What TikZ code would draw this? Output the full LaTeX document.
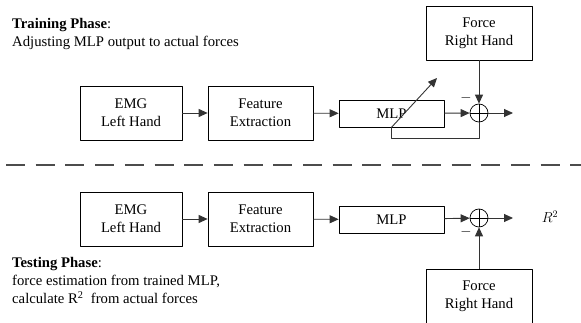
\documentclass[tikz,border=0pt]{standalone}
\usepackage{fontspec}
\setmainfont{Liberation Serif}
\usetikzlibrary{arrows.meta}
\tikzset{
  blok/.style={draw,line width=0.7pt,align=center,inner sep=0pt,minimum height=54,minimum width=104},
  summer/.style={draw,circle,line width=0.7pt,minimum size=18,inner sep=0pt,
    path picture={\draw[line width=0.7pt] (path picture bounding box.north)--(path picture bounding box.south)
      (path picture bounding box.west)--(path picture bounding box.east);}},
  wire/.style={line width=0.9pt,black!80},
  txt/.style={anchor=north west,align=left,inner sep=0pt},
}
\begin{document}
\begin{tikzpicture}[x=1pt,y=-1pt,>={Triangle[length=9pt,width=8pt]},line join=round,font=\fontsize{14.7}{18}\selectfont]
\useasboundingbox (0,0) rectangle (581,323);
% training phase
\node[txt] (trainTxt) at (12,18) {\textbf{Training Phase}:\\Adjusting MLP output to actual forces};
\node[blok,minimum width=102] (emgA) at (131,113) {EMG\\Left Hand};
\node[blok,minimum width=105] (featA) at (260.5,113) {Feature\\Extraction};
\node[blok,minimum width=105,minimum height=27] (mlpA) at (391.5,113.5) {MLP};
\node[summer] (sumA) at (479,113) {};
\node[blok,minimum width=106] (forceA) at (479,33) {Force\\Right Hand};
\path (513,113) coordinate (outA) (437,78) coordinate (adjA);
\draw[wire,->] (emgA)--(featA);
\draw[wire,->] (featA)--(mlpA);
\draw[wire,->] (mlpA)--(sumA);
\draw[wire,->] (forceA)--(sumA);
\draw[wire,->] (sumA)--(outA);
\draw[wire] (sumA.south)--++(0,16)-|(mlpA.south);
\draw[wire,->] (mlpA.south)--(adjA);
% separator
\draw[line width=1.6pt,black!70,dash pattern=on 19pt off 10.7pt] (6,165)--(581,165);
% testing phase
\node[blok,minimum width=102] (emgB) at (131,219) {EMG\\Left Hand};
\node[blok,minimum width=105] (featB) at (260.5,219) {Feature\\Extraction};
\node[blok,minimum width=105,minimum height=27] (mlpB) at (391.5,219.5) {MLP};
\node[summer] (sumB) at (479,218) {};
\node[blok,minimum width=106] (forceB) at (479,296) {Force\\Right Hand};
\path (513,218) coordinate (outB);
\node (rsq) at (550,217) {$R^2$};
\draw[wire,->] (emgB)--(featB);
\draw[wire,->] (featB)--(mlpB);
\draw[wire,->] (mlpB)--(sumB);
\draw[wire,->] (forceB)--(sumB);
\draw[wire,->] (sumB)--(outB);
\foreach \nm/\y in {minA/98,minB/232}
  \node[inner sep=0pt] (\nm) at (466,\y) {$-$};
\node[txt] (testTxt) at (12,257) {\textbf{Testing Phase}:\\force estimation from trained MLP,\\calculate R\textsuperscript{2}\ \ from actual forces};
\end{tikzpicture}
\end{document}
